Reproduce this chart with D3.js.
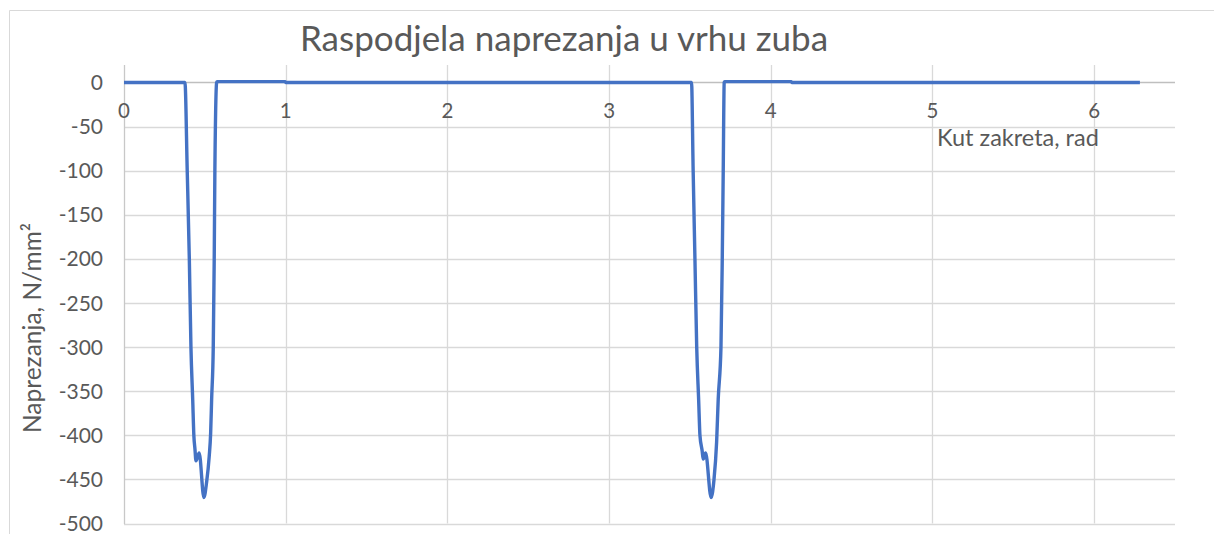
<!DOCTYPE html>
<html>
<head>
<meta charset="utf-8">
<script src="https://cdn.jsdelivr.net/npm/d3@7"></script>
<style>
  html, body { margin: 0; padding: 0; background: #fff; }
  svg { display: block; }
  text { font-family: Lato, "Open Sans", sans-serif; fill: #595959; }
</style>
</head>
<body>
<svg id="chart" width="1214" height="534"></svg>
<script>
// Rotation angle of the gear, rad
const angle = [
  0, 0.377, 0.391, 0.404, 0.414, 0.425, 0.432, 0.439, 0.445, 0.465, 0.494,
  0.511, 0.527, 0.536, 0.542, 0.552, 0.558, 0.562, 0.573, 0.576, 0.996, 1.0,
  3.510, 3.520, 3.531, 3.542, 3.554, 3.562, 3.576, 3.582, 3.597, 3.631,
  3.649, 3.665, 3.675, 3.692, 3.700, 3.706, 3.712, 3.715, 4.126, 4.13, 6.283
];
// Stress at the tooth tip, N/mm²
const stress = [
  0, 0, -100, -200, -300, -360, -400, -416, -429, -420, -470.5,
  -453, -424, -397, -359, -300, -200, -100, 0, 1, 1, 0,
  0, -100, -200, -300, -360, -400, -418, -427, -420, -470.5,
  -450, -408, -359, -300, -200, -100, 0, 1, 1, 0, 0
];

const xTicks = [0, 1, 2, 3, 4, 5, 6];
const yTicks = [0, -50, -100, -150, -200, -250, -300, -350, -400, -450, -500];

const chartTitle = "Raspodjela naprezanja u vrhu zuba";
const xTitle = "Kut zakreta, rad";
const yTitle = "Naprezanja, N/mm²";

const svg = d3.select("#chart");

const x = d3.scaleLinear().domain([0, 6.5]).range([124, 1175]);
const y = d3.scaleLinear().domain([-500, 0]).range([523.5, 82.5]);
const plotTop = 65;

// chart frame (top and left edges)
svg.append("path")
  .attr("d", "M9.5,534 V10.5 H1214")
  .attr("fill", "none")
  .attr("stroke", "#d9d9d9")
  .attr("stroke-width", 1);

// title
svg.append("text")
  .attr("x", 564).attr("y", 51)
  .attr("text-anchor", "middle")
  .attr("font-size", 35)
  .text(chartTitle);

// horizontal gridlines
svg.append("g").selectAll("line")
  .data(yTicks.filter(d => d !== 0))
  .join("line")
  .attr("x1", x(0)).attr("x2", x(6.5))
  .attr("y1", d => Math.round(y(d)) + 0.5).attr("y2", d => Math.round(y(d)) + 0.5)
  .attr("stroke", "#d9d9d9").attr("stroke-width", 1.3);

// vertical gridlines
svg.append("g").selectAll("line")
  .data(xTicks.filter(d => d !== 0))
  .join("line")
  .attr("x1", d => Math.round(x(d)) + 0.5).attr("x2", d => Math.round(x(d)) + 0.5)
  .attr("y1", plotTop).attr("y2", y(-500))
  .attr("stroke", "#d9d9d9").attr("stroke-width", 1.3);

// y axis line
svg.append("line")
  .attr("x1", x(0) + 0.5).attr("x2", x(0) + 0.5)
  .attr("y1", plotTop).attr("y2", y(-500) + 0.5)
  .attr("stroke", "#c8c8c8").attr("stroke-width", 1.3);

// x axis line at zero
svg.append("line")
  .attr("x1", x(0)).attr("x2", x(6.5))
  .attr("y1", y(0)).attr("y2", y(0))
  .attr("stroke", "#bfbfbf").attr("stroke-width", 1.3);

// y tick labels
svg.append("g").selectAll("text")
  .data(yTicks)
  .join("text")
  .attr("x", 103)
  .attr("y", d => y(d))
  .attr("dy", "0.36em")
  .attr("text-anchor", "end")
  .attr("font-size", 21)
  .text(d => d3.format("d")(d).replace("−", "-"));

// x tick labels
svg.append("g").selectAll("text")
  .data(xTicks)
  .join("text")
  .attr("x", d => x(d))
  .attr("y", 118)
  .attr("text-anchor", "middle")
  .attr("font-size", 20.5)
  .text(d => d);

// axis titles
svg.append("text")
  .attr("x", 937).attr("y", 146)
  .attr("font-size", 23.5)
  .text(xTitle);

svg.append("text")
  .attr("transform", "translate(41,328) rotate(-90)")
  .attr("text-anchor", "middle")
  .attr("font-size", 24.5)
  .text(yTitle);

// stress curve (smoothed)
const pts = angle.map((a, i) => [a, stress[i]]);
svg.append("path")
  .datum(pts)
  .attr("fill", "none")
  .attr("stroke", "#4472c4")
  .attr("stroke-width", 3.4)
  .attr("stroke-linejoin", "round")
  .attr("d", d3.line().curve(d3.curveMonotoneX).x(d => x(d[0])).y(d => y(d[1])));
</script>
</body>
</html>
